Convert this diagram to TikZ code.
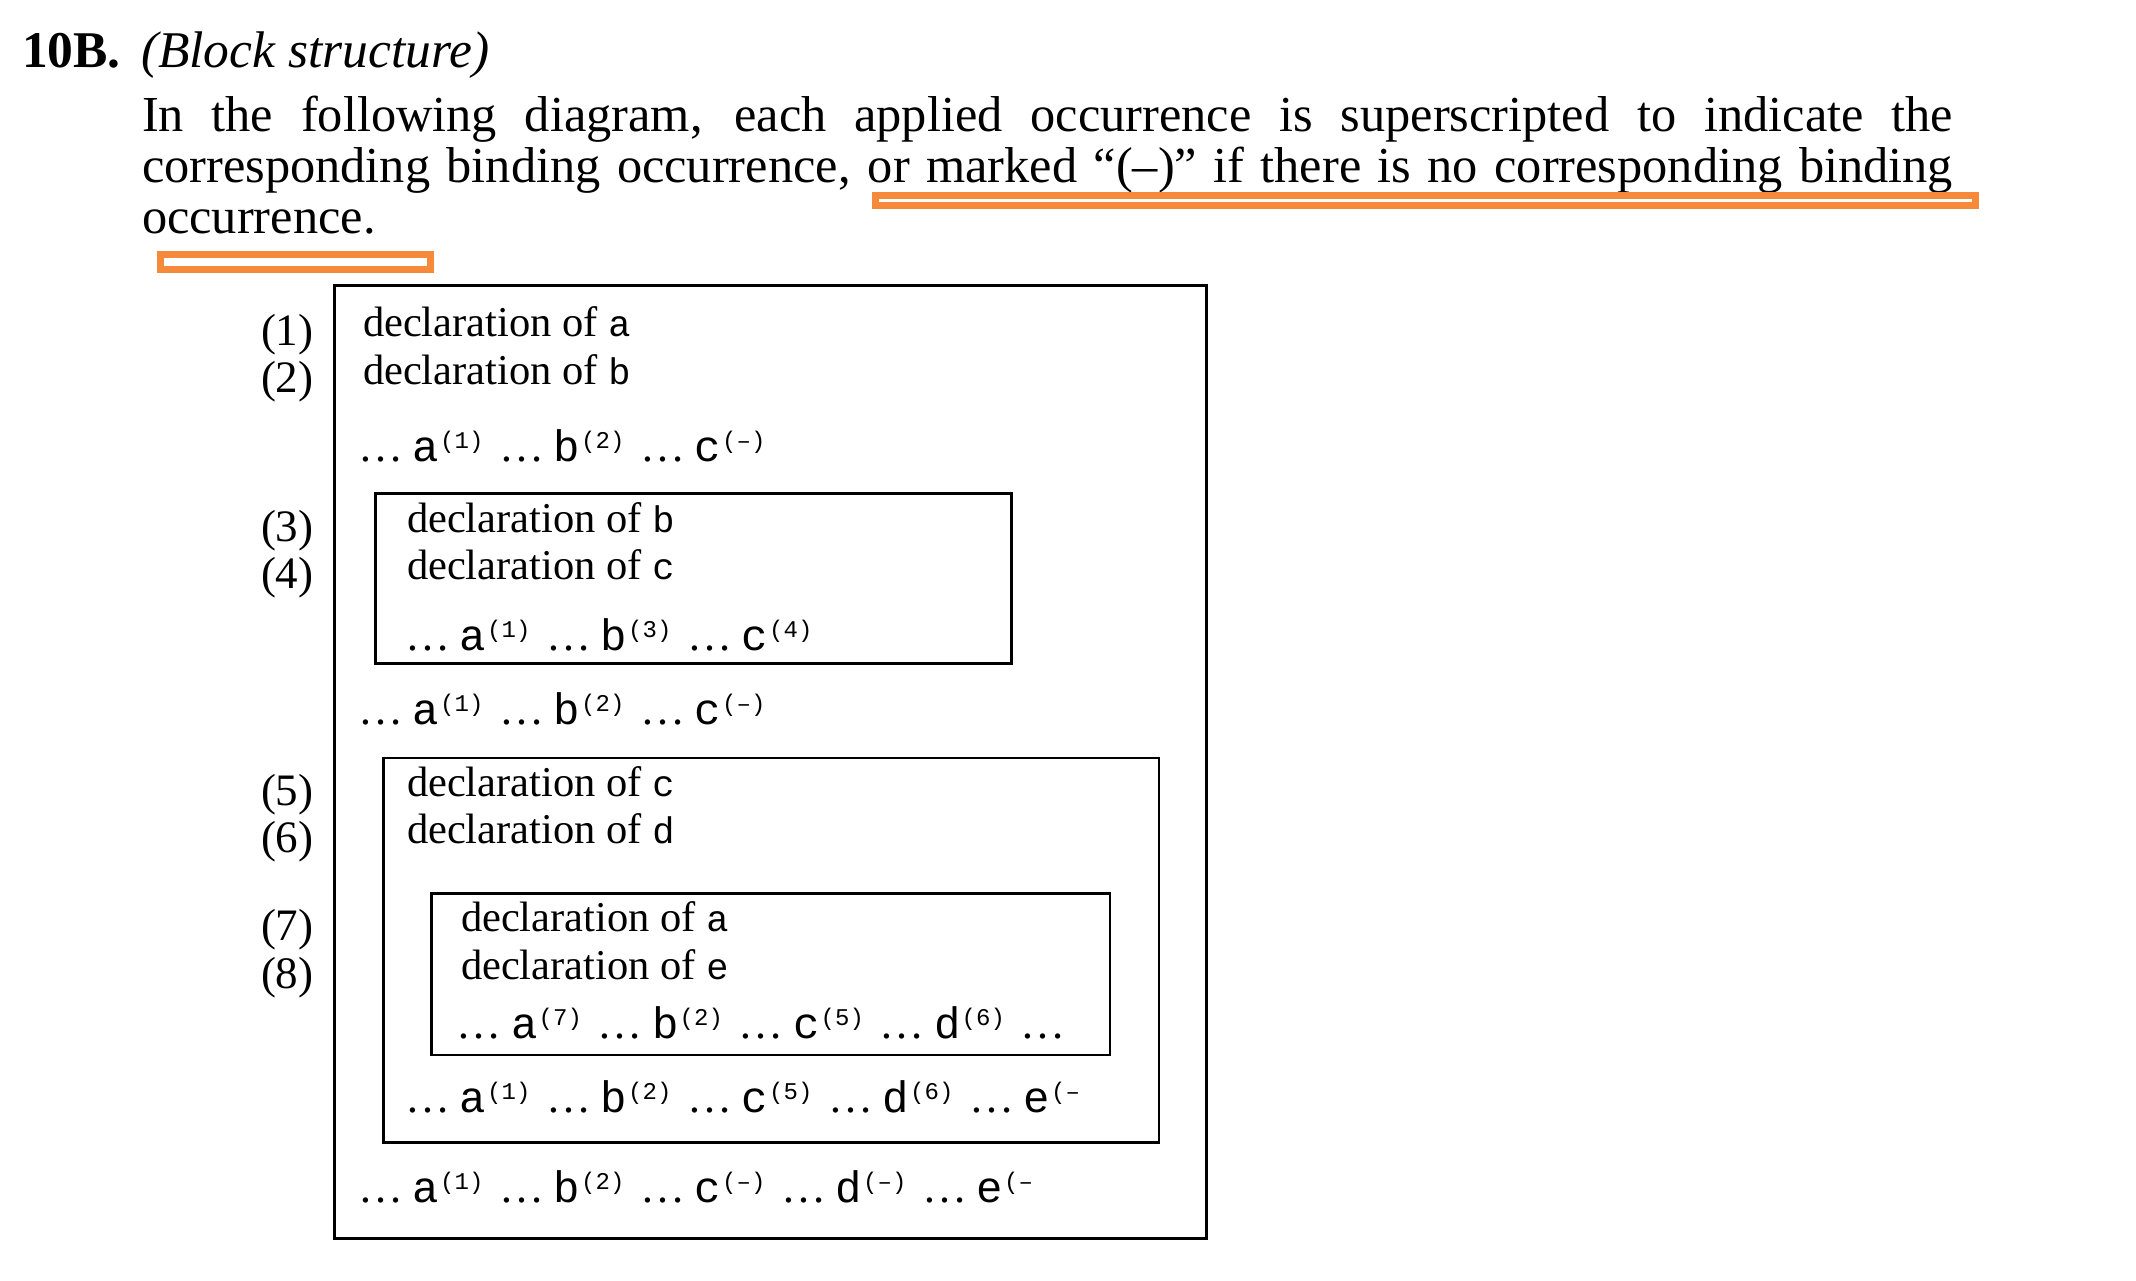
\documentclass[tikz,border=0pt]{standalone}
\usepackage{fontspec}
\setmainfont{Liberation Serif}
\newfontfamily\monof{Liberation Mono}
\definecolor{hl}{RGB}{246,138,58}
\newcommand\titlefont{\fontsize{51.5pt}{53pt}\selectfont}
\newcommand\parafont{\fontsize{50.4pt}{52pt}\selectfont}
\newcommand\declfont{\fontsize{42.5pt}{44pt}\selectfont}
\newcommand\labfont{\fontsize{45pt}{47pt}\selectfont}
\newcommand\dvar[1]{{\monof\fontsize{37pt}{39pt}\selectfont #1}}
\newcommand\ellf{\fontsize{45pt}{47pt}\selectfont}
\newcommand\cellc[1]{\makebox[14.5pt][c]{#1}}
\newcommand\sbr[1]{\cellc{(}\cellc{#1}\cellc{)}}
\newcommand\sbo[1]{\cellc{(}\cellc{#1}}
\newcommand\grp[2]{\makebox[141pt][l]{\makebox[57pt][l]{\ellf …}\makebox[22pt][c]{\monof\fontsize{44pt}{46pt}\selectfont #1}\hspace*{3pt}\raisebox{13pt}{\monof\fontsize{24pt}{26pt}\selectfont #2}}}
\newcommand\traildots{{\ellf …}}
\begin{document}
\begin{tikzpicture}[x=1pt,y=-1pt,
  txt/.style={anchor=base west, inner sep=0pt, outer sep=0pt},
  blk/.style={draw=black, line width=2.8pt},
  hlbox/.style={draw=hl, line width=7pt}]
\fill[white] (0,0) rectangle (2136,1281);
\useasboundingbox (0,0) rectangle (2136,1281);
% heading
\node[txt] (num) at (22,67.5) {\titlefont\bfseries 10B.};
\node[txt] (ttl) at (141,67.5) {\titlefont\itshape (Block structure)};
\node[txt] (p1) at (142,132) {\parafont\makebox[1811pt][s]{In the following diagram, each applied occurrence is superscripted to indicate the}};
\node[txt] (p2) at (142,183) {\parafont\makebox[1811pt][s]{corresponding binding occurrence, or marked “(–)” if there is no corresponding binding}};
\node[txt] (p3) at (142,234) {\parafont occurrence.};
\draw[hlbox] (875.5,195.7) rectangle (1975.5,205.6);
\draw[hlbox] (160.5,254.5) rectangle (430.7,269.2);
% blocks
\draw[blk] (334.5,285.5) rectangle (1206.5,1238.5);
\draw[blk] (375.5,493.5) rectangle (1011.5,663.5);
\draw[blk] (383.5,758) rectangle (1159,1142.5);
\draw[blk] (431.5,893.5) rectangle (1110,1055);
% labels
\node[txt] (l1) at (261,345) {\labfont (1)};
\node[txt] (l2) at (261,392.5) {\labfont (2)};
\node[txt] (l3) at (261,541.5) {\labfont (3)};
\node[txt] (l4) at (261,588) {\labfont (4)};
\node[txt] (l5) at (261,805.5) {\labfont (5)};
\node[txt] (l6) at (261,852) {\labfont (6)};
\node[txt] (l7) at (261,940.5) {\labfont (7)};
\node[txt] (l8) at (261,988) {\labfont (8)};
% declarations
\node[txt] (d1) at (363,336) {\declfont declaration of \dvar{a}};
\node[txt] (d2) at (363,384) {\declfont declaration of \dvar{b}};
\node[txt] (d3) at (407,532.7) {\declfont declaration of \dvar{b}};
\node[txt] (d4) at (407,579.3) {\declfont declaration of \dvar{c}};
\node[txt] (d5) at (407,796.7) {\declfont declaration of \dvar{c}};
\node[txt] (d6) at (407,843.3) {\declfont declaration of \dvar{d}};
\node[txt] (d7) at (461,931.7) {\declfont declaration of \dvar{a}};
\node[txt] (d8) at (461,979) {\declfont declaration of \dvar{e}};
% applied occurrences
\node[txt] (r1) at (358,461) {\grp{a}{\sbr{1}}\grp{b}{\sbr{2}}\grp{c}{\sbr{–}}};
\node[txt] (r2) at (405,650.7) {\grp{a}{\sbr{1}}\grp{b}{\sbr{3}}\grp{c}{\sbr{4}}};
\node[txt] (r3) at (358,724) {\grp{a}{\sbr{1}}\grp{b}{\sbr{2}}\grp{c}{\sbr{–}}};
\node[txt] (r4) at (456.5,1038.3) {\grp{a}{\sbr{7}}\grp{b}{\sbr{2}}\grp{c}{\sbr{5}}\grp{d}{\sbr{6}}\traildots};
\node[txt] (r5) at (405,1112.7) {\grp{a}{\sbr{1}}\grp{b}{\sbr{2}}\grp{c}{\sbr{5}}\grp{d}{\sbr{6}}\grp{e}{\sbo{–}}};
\node[txt] (r6) at (358,1202.7) {\grp{a}{\sbr{1}}\grp{b}{\sbr{2}}\grp{c}{\sbr{–}}\grp{d}{\sbr{–}}\grp{e}{\sbo{–}}};
\end{tikzpicture}
\end{document}
